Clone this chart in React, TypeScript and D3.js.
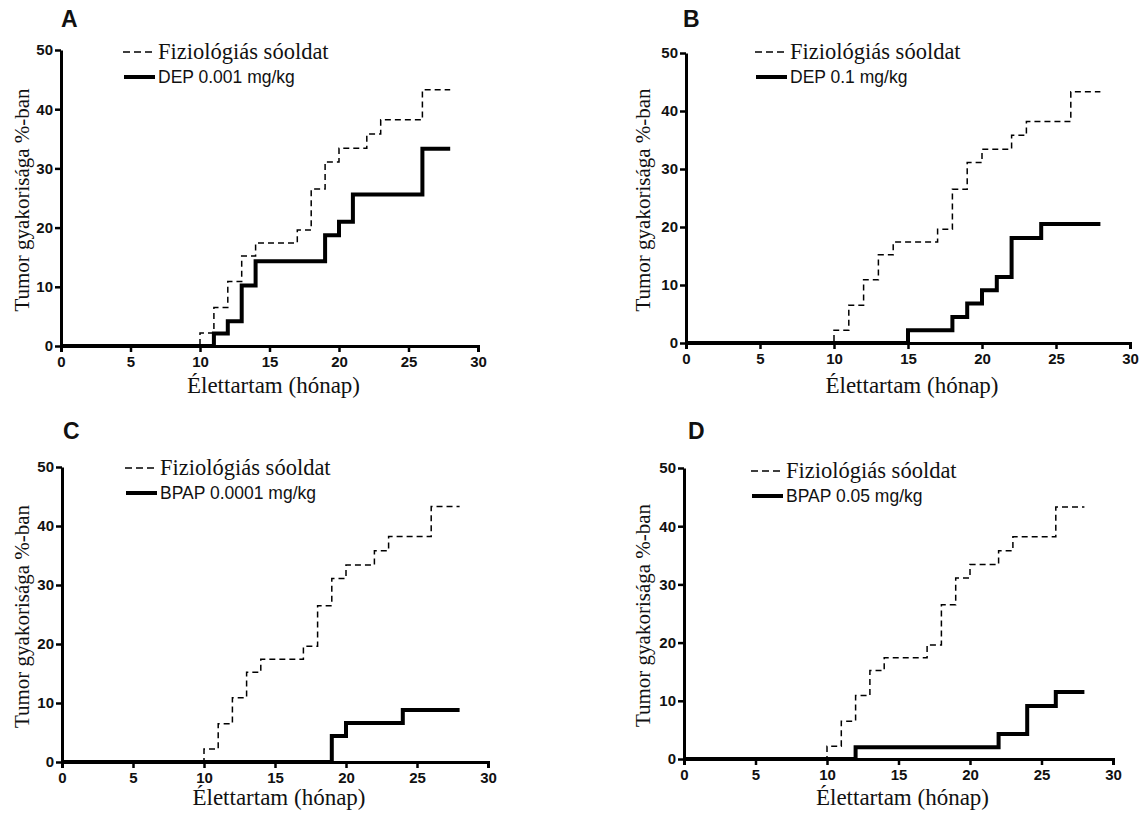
import React, { useEffect, useRef } from "react";
import * as d3 from "d3";

// control group, identical in all four panels
const salineTimes = [0, 10, 11, 12, 13, 14, 17, 18, 19, 20, 22, 23, 26, 28];
const salineValues = [0, 2.2, 6.5, 10.9, 15.2, 17.4, 19.6, 26.5, 31.1, 33.4, 35.8, 38.2, 43.3, 43.3];

const dep001Times = [0, 11, 12, 13, 14, 19, 20, 21, 26, 28];
const dep001Values = [0, 2.1, 4.2, 10.2, 14.3, 18.7, 21.0, 25.6, 33.3, 33.3];

const dep01Times = [0, 15, 18, 19, 20, 21, 22, 24, 28];
const dep01Values = [0, 2.2, 4.5, 6.8, 9.1, 11.4, 18.1, 20.5, 20.5];

const bpap00001Times = [0, 19, 20, 24, 28];
const bpap00001Values = [0, 4.4, 6.6, 8.8, 8.8];

const bpap005Times = [0, 12, 22, 24, 26, 28];
const bpap005Values = [0, 2.0, 4.3, 9.1, 11.5, 11.5];

const xTicks = [0, 5, 10, 15, 20, 25, 30];
const yTicks = [0, 10, 20, 30, 40, 50];

const panelLetters = ["A", "B", "C", "D"];
const treatmentNames = ["DEP 0.001 mg/kg", "DEP 0.1 mg/kg", "BPAP 0.0001 mg/kg", "BPAP 0.05 mg/kg"];
const treatmentTimes = [dep001Times, dep01Times, bpap00001Times, bpap005Times];
const treatmentValues = [dep001Values, dep01Values, bpap00001Values, bpap005Values];

const salineLabel = "Fiziológiás sóoldat";
const xTitle = "Élettartam (hónap)";
const yTitle = "Tumor gyakorisága %-ban";

// per-panel placement on the page
const layouts = [
  { x0: 61, x1: 478, top: 50, bottom: 346, lx: 123, ly: 52, letterX: 61, letterY: 27, yTitleX: 29, xTitleY: 393 },
  { x0: 686, x1: 1130, top: 53, bottom: 343, lx: 755, ly: 52, letterX: 683, letterY: 27, yTitleX: 650, xTitleY: 393 },
  { x0: 62, x1: 488, top: 467, bottom: 762, lx: 125, ly: 468, letterX: 63, letterY: 439, yTitleX: 29, xTitleY: 805 },
  { x0: 684, x1: 1113, top: 468, bottom: 759, lx: 751, ly: 471, letterX: 688, letterY: 439, yTitleX: 650, xTitleY: 805 },
];

const sans = "Arial, 'Liberation Sans', sans-serif";
const serif = "'Liberation Serif', 'Times New Roman', serif";

const App = () => {
  const svgRef = useRef<SVGSVGElement>(null);

  useEffect(() => {
    const svg = d3.select(svgRef.current);
    svg.selectAll("*").remove();

    panelLetters.forEach((letter, i) => {
      const L = layouts[i];
      const g = svg.append("g");

      const x = d3.scaleLinear().domain([0, 30]).range([L.x0, L.x1]);
      const y = d3.scaleLinear().domain([0, 50]).range([L.bottom, L.top]);

      const line = d3
        .line<[number, number]>()
        .x((d) => x(d[0]))
        .y((d) => y(d[1]))
        .curve(d3.curveStepAfter);

      const saline = salineTimes.map((t, k) => [t, salineValues[k]] as [number, number]);
      const treated = treatmentTimes[i].map((t, k) => [t, treatmentValues[i][k]] as [number, number]);

      // axes
      const xAxis = g
        .append("g")
        .attr("transform", `translate(0,${L.bottom})`)
        .call(d3.axisBottom(x).tickValues(xTicks).tickSize(6).tickSizeOuter(6).tickPadding(4));
      const yAxis = g
        .append("g")
        .attr("transform", `translate(${L.x0},0)`)
        .call(d3.axisLeft(y).tickValues(yTicks).tickSize(6).tickSizeOuter(0).tickPadding(2));

      [xAxis, yAxis].forEach((ax) => {
        ax.select(".domain").attr("stroke", "#000").attr("stroke-width", 3);
        ax.selectAll(".tick line").attr("stroke", "#000").attr("stroke-width", 2.5);
        ax.selectAll(".tick text")
          .attr("fill", "#111")
          .style("font-family", sans)
          .style("font-weight", "bold")
          .style("font-size", "15px");
      });

      // curves
      g.append("path")
        .datum(saline)
        .attr("d", line)
        .attr("fill", "none")
        .attr("stroke", "#000")
        .attr("stroke-width", 1.5)
        .attr("stroke-dasharray", "6,4");

      g.append("path")
        .datum(treated)
        .attr("d", line)
        .attr("fill", "none")
        .attr("stroke", "#000")
        .attr("stroke-width", 4);

      // legend
      g.append("line")
        .attr("x1", L.lx)
        .attr("x2", L.lx + 30)
        .attr("y1", L.ly)
        .attr("y2", L.ly)
        .attr("stroke", "#000")
        .attr("stroke-width", 1.5)
        .attr("stroke-dasharray", "7,4");
      g.append("text")
        .attr("x", L.lx + 35)
        .attr("y", L.ly + 7)
        .text(salineLabel)
        .style("font-family", serif)
        .style("font-size", "22.5px")
        .attr("fill", "#111");

      g.append("line")
        .attr("x1", L.lx + 1)
        .attr("x2", L.lx + 32)
        .attr("y1", L.ly + 25)
        .attr("y2", L.ly + 25)
        .attr("stroke", "#000")
        .attr("stroke-width", 4);
      g.append("text")
        .attr("x", L.lx + 35)
        .attr("y", L.ly + 31)
        .text(treatmentNames[i])
        .style("font-family", sans)
        .style("font-size", "17.5px")
        .attr("fill", "#111");

      // panel letter
      g.append("text")
        .attr("x", L.letterX)
        .attr("y", L.letterY)
        .text(letter)
        .style("font-family", sans)
        .style("font-weight", "bold")
        .style("font-size", "23px")
        .attr("fill", "#111");

      // axis titles
      g.append("text")
        .attr("text-anchor", "middle")
        .attr("x", (L.x0 + L.x1) / 2 + 4)
        .attr("y", L.xTitleY)
        .text(xTitle)
        .style("font-family", serif)
        .style("font-size", "23px")
        .attr("fill", "#111");

      g.append("text")
        .attr("text-anchor", "middle")
        .attr("transform", `translate(${L.yTitleX},${(L.top + L.bottom) / 2 + 2}) rotate(-90)`)
        .text(yTitle)
        .style("font-family", serif)
        .style("font-size", "21px")
        .attr("fill", "#111");
    });
  }, []);

  return (
    <svg
      ref={svgRef}
      width={1145}
      height={816}
      style={{ position: "absolute", left: 0, top: 0, background: "#fff" }}
    ></svg>
  );
};

export default App;
